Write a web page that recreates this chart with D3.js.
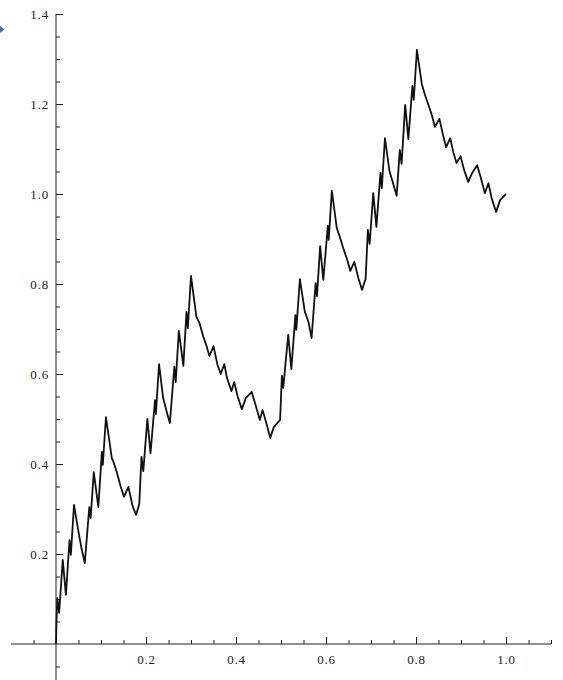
<!DOCTYPE html>
<html>
<head>
<meta charset="utf-8">
<script src="https://d3js.org/d3.v7.min.js"></script>
<style>
  body { margin: 0; background: #fff; }
  .tick text { font-family: "Liberation Serif", "Times New Roman", serif; font-size: 13px; fill: #222; letter-spacing: 0.8px; }
</style>
</head>
<body>
<div id="my_dataviz"></div>
<script>
// curve points (x, y)
var xs = [0, 0.001, 0.003, 0.007, 0.015, 0.022, 0.030, 0.033, 0.040, 0.050,
  0.057, 0.064, 0.074, 0.077, 0.084, 0.094, 0.102, 0.104, 0.111, 0.124,
  0.128, 0.135, 0.144, 0.151, 0.161, 0.170, 0.178, 0.185, 0.190, 0.194,
  0.203, 0.210, 0.220, 0.222, 0.229, 0.238, 0.246, 0.253, 0.263, 0.266,
  0.273, 0.283, 0.290, 0.293, 0.300, 0.312, 0.319, 0.327, 0.333, 0.341,
  0.350, 0.359, 0.366, 0.374, 0.380, 0.390, 0.396, 0.404, 0.413, 0.422,
  0.435, 0.443, 0.453, 0.459, 0.468, 0.476, 0.484, 0.498, 0.502, 0.505,
  0.516, 0.523, 0.532, 0.534, 0.542, 0.553, 0.561, 0.568, 0.577, 0.580,
  0.587, 0.594, 0.604, 0.606, 0.613, 0.624, 0.630, 0.637, 0.648, 0.654,
  0.663, 0.672, 0.680, 0.688, 0.693, 0.697, 0.705, 0.712, 0.721, 0.724,
  0.731, 0.741, 0.749, 0.757, 0.764, 0.768, 0.776, 0.783, 0.792, 0.795,
  0.802, 0.813, 0.820, 0.827, 0.835, 0.842, 0.852, 0.861, 0.867, 0.876,
  0.883, 0.890, 0.899, 0.907, 0.916, 0.926, 0.936, 0.944, 0.953, 0.961,
  0.968, 0.978, 0.987, 1.000];
var ys = [0, 0.049, 0.102, 0.069, 0.187, 0.109, 0.231, 0.198, 0.309, 0.249,
  0.211, 0.180, 0.304, 0.280, 0.382, 0.304, 0.427, 0.398, 0.504, 0.413,
  0.404, 0.382, 0.349, 0.327, 0.349, 0.307, 0.287, 0.311, 0.416, 0.384,
  0.500, 0.424, 0.542, 0.511, 0.622, 0.547, 0.516, 0.491, 0.616, 0.582,
  0.696, 0.618, 0.738, 0.702, 0.818, 0.727, 0.713, 0.684, 0.667, 0.640,
  0.662, 0.620, 0.600, 0.622, 0.591, 0.562, 0.582, 0.549, 0.522, 0.547,
  0.560, 0.533, 0.498, 0.520, 0.489, 0.458, 0.482, 0.498, 0.596, 0.569,
  0.687, 0.611, 0.731, 0.698, 0.811, 0.738, 0.716, 0.680, 0.802, 0.773,
  0.884, 0.809, 0.929, 0.898, 1.007, 0.924, 0.907, 0.884, 0.851, 0.829,
  0.849, 0.813, 0.787, 0.811, 0.920, 0.889, 1.002, 0.927, 1.047, 1.013,
  1.124, 1.051, 1.024, 0.996, 1.098, 1.067, 1.198, 1.122, 1.240, 1.209,
  1.320, 1.244, 1.220, 1.200, 1.176, 1.149, 1.167, 1.127, 1.104, 1.124,
  1.093, 1.069, 1.084, 1.053, 1.027, 1.049, 1.064, 1.036, 1.002, 1.024,
  0.991, 0.960, 0.987, 1.000];

// tick values
var xMajor = [0.2, 0.4, 0.6, 0.8, 1.0];
var xMinor = [-0.05, 0.05, 0.1, 0.15, 0.25, 0.3, 0.35, 0.45, 0.5, 0.55,
  0.65, 0.7, 0.75, 0.85, 0.9, 0.95, 1.05, 1.1];
var yMajor = [0.2, 0.4, 0.6, 0.8, 1.0, 1.2, 1.4];
var yMinor = [-0.05, 0.05, 0.1, 0.15, 0.25, 0.3, 0.35, 0.45, 0.5, 0.55,
  0.65, 0.7, 0.75, 0.85, 0.9, 0.95, 1.05, 1.1, 1.15, 1.25, 1.3, 1.35];

var width = 563, height = 680;

var svg = d3.select("#my_dataviz")
  .append("svg")
    .attr("width", width)
    .attr("height", height);

// scales (same units on both axes)
var x = d3.scaleLinear().domain([0, 1]).range([56, 506]);
var y = d3.scaleLinear().domain([0, 1]).range([644, 194]);

// little blue cell marker at the left edge
svg.append("path")
  .attr("d", "M0,26L4.5,29.5L0,33Z")
  .style("fill", "#3d6db5");

// X axis through y = 0
var gx = svg.append("g")
  .attr("transform", "translate(0," + y(0) + ")");
gx.append("line")
  .attr("x1", x(-0.1)).attr("x2", x(1.1))
  .style("stroke", "#222");
gx.append("g")
  .call(d3.axisBottom(x).tickValues(xMinor).tickSize(-4).tickFormat(""));
gx.append("g")
  .call(d3.axisBottom(x).tickValues(xMajor).tickSize(-7).tickPadding(11)
    .tickFormat(d3.format(".1f")));

// Y axis through x = 0
var gy = svg.append("g")
  .attr("transform", "translate(" + x(0) + ",0)");
gy.append("line")
  .attr("y1", y(1.4)).attr("y2", y(-0.1))
  .style("stroke", "#222");
gy.append("g")
  .call(d3.axisLeft(y).tickValues(yMinor).tickSize(-4).tickFormat(""));
gy.append("g")
  .call(d3.axisLeft(y).tickValues(yMajor).tickSize(-7).tickPadding(7)
    .tickFormat(d3.format(".1f")));

svg.selectAll(".domain").remove();
svg.selectAll(".tick line").style("stroke", "#222");

// the curve
var pts = xs.map(function (d, i) { return [d, ys[i]]; });
svg.append("path")
  .datum(pts)
  .attr("d", d3.line()
    .x(function (d) { return x(d[0]); })
    .y(function (d) { return y(d[1]); }))
  .style("fill", "none")
  .style("stroke", "#111")
  .style("stroke-width", 1.8)
  .style("stroke-linejoin", "round");
</script>
</body>
</html>
